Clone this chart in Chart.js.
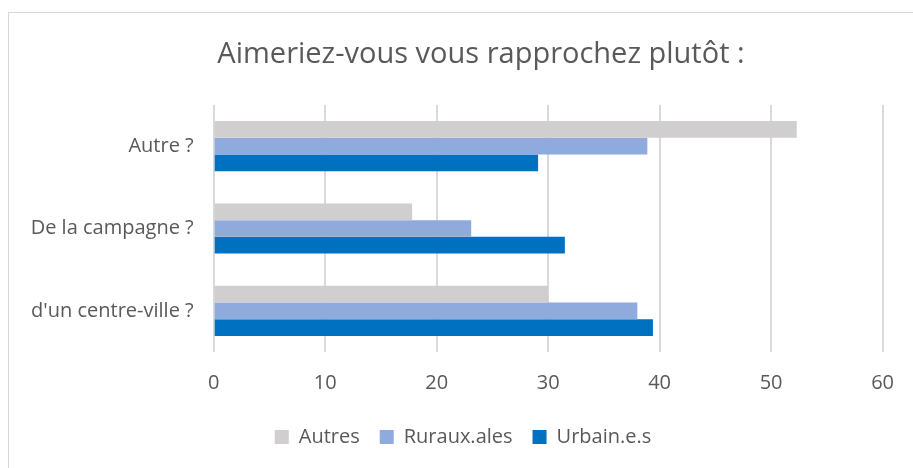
<!DOCTYPE html>
<html>
<head>
<meta charset="utf-8">
<script src="https://cdn.jsdelivr.net/npm/chart.js@4"></script>
<style>
  html, body { margin: 0; padding: 0; background: #fff; overflow: hidden; }
  #frame { position: absolute; left: 8px; top: 12px; width: 920px; height: 470px; border: 1px solid #d9d9d9; box-sizing: border-box; }
  #wrap { position: absolute; left: 0; top: 0; width: 913px; height: 468px; }
</style>
</head>
<body>
<div id="frame"></div>
<div id="wrap"><canvas id="chart"></canvas></div>
<script>
// =============================================
// Data
// =============================================
const categories = ['Autre ?', 'De la campagne ?', "d'un centre-ville ?"];
const seriesNames = ['Autres', 'Ruraux.ales', 'Urbain.e.s'];
const autres  = [52.3, 17.8, 30.0];
const ruraux  = [38.9, 23.1, 38.0];
const urbains = [29.1, 31.5, 39.4];
const xTicks  = [0, 10, 20, 30, 40, 50, 60];

const colors = ['#D0CECE', '#8FAADC', '#0070C0'];
const textColor = '#595959';
const font = "'Open Sans', 'Noto Sans', sans-serif";

// Title and legend are not centred on the canvas in the original, nudge them
const shiftBlocks = {
  id: 'shiftBlocks',
  afterLayout(chart) {
    if (chart.titleBlock) {
      chart.titleBlock.left += 39;
      chart.titleBlock.right += 39;
    }
    if (chart.legend) {
      chart.legend.left += 21;
      chart.legend.right += 21;
    }
  }
};

// =============================================
// Chart
// =============================================
const chart = new Chart(document.getElementById('chart'), {
  type: 'bar',
  data: {
    labels: categories,
    datasets: [autres, ruraux, urbains].map((vals, i) => ({
      label: seriesNames[i],
      data: vals,
      backgroundColor: colors[i],
      borderWidth: 0,
      categoryPercentage: 0.61,
      barPercentage: 1.0
    }))
  },
  plugins: [shiftBlocks],
  options: {
    indexAxis: 'y',
    responsive: true,
    maintainAspectRatio: false,
    animation: false,
    layout: { padding: { left: 0, right: 29, top: 0, bottom: 11 } },
    scales: {
      x: {
        min: 0,
        max: 60,
        afterBuildTicks: (axis) => { axis.ticks = xTicks.map(v => ({ value: v })); },
        afterFit: (axis) => { axis.height = 55; },
        ticks: { color: textColor, font: { family: font, size: 20 }, padding: 19 },
        grid: { color: '#D9D9D9', lineWidth: 2, drawTicks: false },
        border: { display: false }
      },
      y: {
        afterFit: (axis) => { axis.width = 213.7; },
        ticks: { color: textColor, font: { family: font, size: 20 }, padding: 20 },
        grid: { display: false, drawTicks: false },
        border: { display: false }
      }
    },
    plugins: {
      title: {
        display: true,
        text: 'Aimeriez-vous vous rapprochez plutôt :',
        color: textColor,
        font: { family: font, size: 29, weight: 'normal' },
        padding: { top: 37.6, bottom: 32.6 }
      },
      legend: {
        position: 'bottom',
        labels: {
          color: textColor,
          font: { family: font, size: 20 },
          boxWidth: 14,
          boxHeight: 14,
          padding: 20
        }
      },
      tooltip: { enabled: false }
    }
  }
});
</script>
</body>
</html>
